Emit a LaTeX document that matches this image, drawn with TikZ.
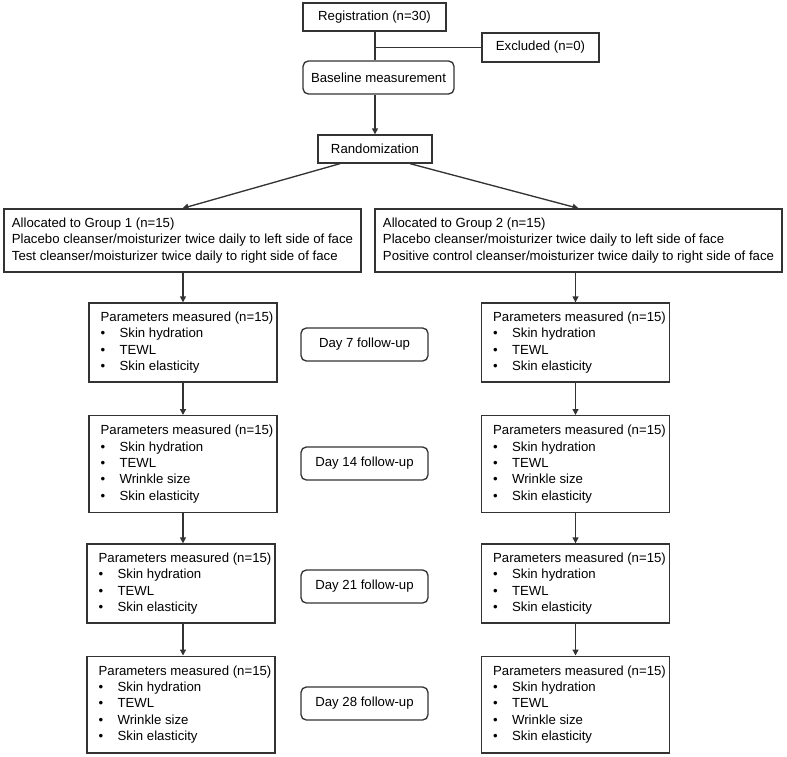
\documentclass[tikz,border=0pt]{standalone}
\usepackage{fontspec}
\setmainfont{Liberation Sans}
\usetikzlibrary{arrows.meta}

\newcommand{\phead}{\hspace*{6pt}Parameters measured (n=15)}
\newcommand{\bul}{\hspace*{6pt}\makebox[14.25pt][l]{\textbullet}}

\begin{document}
\begin{tikzpicture}[x=0.75pt,y=-0.75pt,line width=1pt,
  box/.style={draw=black!80,align=left,inner sep=2pt,font=\fontsize{9.9}{12.3}\selectfont},
  rbox/.style={box,rounded corners=4pt},
  pbox/.style={box,minimum width=141pt,minimum height=59.25pt},
  pboxl/.style={box,minimum width=141pt,minimum height=72.5pt},
  daybox/.style={rbox,minimum width=95.25pt,minimum height=24.75pt},
  arr/.style={draw=black!80,-{Triangle[length=4.5pt,width=4.5pt]}},
  ln/.style={draw=black!80}]

% Rahmen
\useasboundingbox (0,0) rectangle (787,756);

% oberer Teil
\node[box,minimum width=107.25pt,minimum height=21pt] (reg) at (374.5,17) {Registration (n=30)};
\node[box,minimum width=87.75pt,minimum height=21.75pt] (excl) at (540.5,47.5) {Excluded (n=0)};
\node[rbox,minimum width=113.25pt,minimum height=24.75pt] (base) at (378.5,77.5) {Baseline measurement};
\node[box,minimum width=85.5pt,minimum height=21pt] (rand) at (375,149) {Randomization};

% Gruppen
\node[box,minimum width=267.75pt,minimum height=47.25pt] (g1) at (182.5,240.5)
  {Allocated to Group 1 (n=15)\\
   Placebo cleanser/moisturizer twice daily to left side of face\\
   Test cleanser/moisturizer twice daily to right side of face};
\node[box,minimum width=305.25pt,minimum height=47.25pt] (g2) at (578.5,240.5)
  {Allocated to Group 2 (n=15)\\
   Placebo cleanser/moisturizer twice daily to left side of face\\
   Positive control cleanser/moisturizer twice daily to right side of face};

% linke Spalte
\node[pbox] (pa1) at (183,342.5) {\phead\\ \bul Skin hydration\\ \bul TEWL\\ \bul Skin elasticity};
\node[pboxl] (pa2) at (183,464) {\phead\\ \bul Skin hydration\\ \bul TEWL\\ \bul Wrinkle size\\ \bul Skin elasticity};
\node[pbox] (pa3) at (181,583.5) {\phead\\ \bul Skin hydration\\ \bul TEWL\\ \bul Skin elasticity};
\node[pboxl] (pa4) at (181,704.5) {\phead\\ \bul Skin hydration\\ \bul TEWL\\ \bul Wrinkle size\\ \bul Skin elasticity};

% rechte Spalte
\node[pbox] (pb1) at (575.5,342.5) {\phead\\ \bul Skin hydration\\ \bul TEWL\\ \bul Skin elasticity};
\node[pboxl] (pb2) at (575.5,464) {\phead\\ \bul Skin hydration\\ \bul TEWL\\ \bul Wrinkle size\\ \bul Skin elasticity};
\node[pbox] (pb3) at (575.5,583.5) {\phead\\ \bul Skin hydration\\ \bul TEWL\\ \bul Skin elasticity};
\node[pboxl] (pb4) at (575.5,704.5) {\phead\\ \bul Skin hydration\\ \bul TEWL\\ \bul Wrinkle size\\ \bul Skin elasticity};

% Nachuntersuchungen
\node[daybox] (d7) at (364.5,344.5) {Day 7 follow-up};
\node[daybox] (d14) at (364.5,463.5) {Day 14 follow-up};
\node[daybox] (d21) at (364.5,586.5) {Day 21 follow-up};
\node[daybox] (d28) at (364.5,703.5) {Day 28 follow-up};

% Verbindungen oben
\draw[ln] (rand |- reg.south) -- (rand |- base.north);
\draw[ln] (rand |- excl) -- (excl.west);
\draw[arr] (rand |- base.south) -- (rand.north);
\draw[arr] ([xshift=-26.25pt]rand.south) -- (g1.north);
\draw[arr] ([xshift=26.25pt]rand.south) -- (g2.north);

% Pfeile in den Spalten
\draw[arr] (pa1 |- g1.south) -- (pa1.north);
\draw[arr] (pb1 |- g2.south) -- (pb1.north);
\draw[arr] (pa1.south) -- (pa1.south |- pa2.north);
\draw[arr] (pa1.south |- pa2.south) -- (pa1.south |- pa3.north);
\draw[arr] (pa1.south |- pa3.south) -- (pa1.south |- pa4.north);
\draw[arr] (pb1.south) -- (pb2.north);
\draw[arr] (pb2.south) -- (pb3.north);
\draw[arr] (pb3.south) -- (pb4.north);

\end{tikzpicture}
\end{document}
